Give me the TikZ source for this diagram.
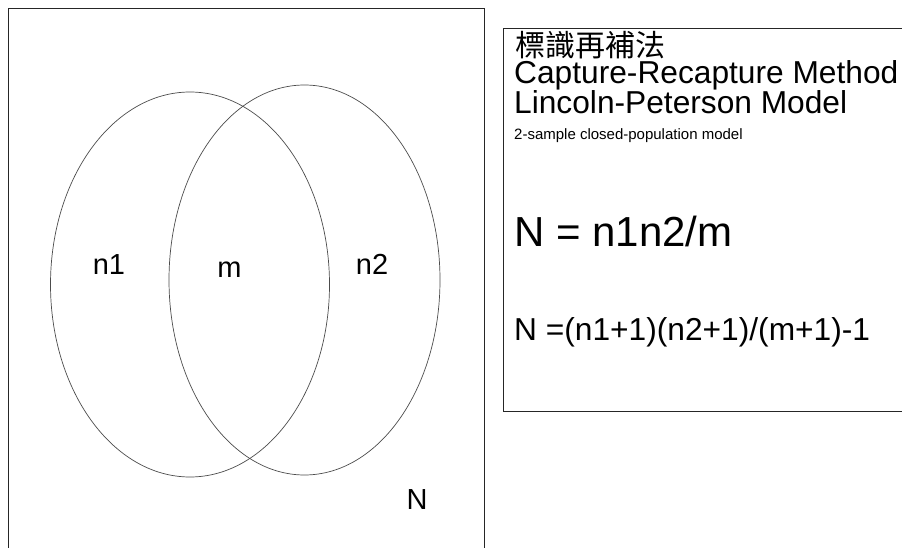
\documentclass[tikz,border=0pt]{standalone}
\usepackage{fontspec}
\setmainfont{Liberation Sans}
\newfontfamily\cjkfont{Noto Sans CJK TC}
\begin{document}
\begin{tikzpicture}[x=1pt,y=-1pt,
  frame/.style={draw=black!85,line width=0.9pt},
  venn/.style={draw=black!70,line width=0.7pt},
  lbl/.style={anchor=base,inner sep=0pt,font=\fontsize{29}{29}\selectfont},
  info/.style={anchor=base west,inner sep=0pt}]
\useasboundingbox (0,0) rectangle (902,548);
\fill[white] (0,0) rectangle (902,548);
% population frame (open at bottom)
\coordinate (lbl) at (8,548);
\coordinate (ltl) at (8,8);
\coordinate (ltr) at (484,8);
\coordinate (lbr) at (484,548);
\draw[frame] (lbl) -- (ltl) -- (ltr) -- (lbr);
% info frame (open at right)
\coordinate (rtr) at (902,28);
\coordinate (rtl) at (503,28);
\coordinate (rbl) at (503,411);
\coordinate (rbr) at (902,411);
\draw[frame] (rtr) -- (rtl) -- (rbl) -- (rbr);
% Venn ellipses
\draw[venn] (190,284.5) ellipse [x radius=139.5, y radius=192.5];
\draw[venn] (304.5,280) ellipse [x radius=135.5, y radius=195];
% labels
\node[lbl] (n1) at (109,274) {n1};
\node[lbl] (m) at (229.5,277) {m};
\node[lbl] (n2) at (372,274) {n2};
\node[lbl] (N) at (417,509) {N};
% info text
\node[info,font=\cjkfont\fontsize{30}{30}\selectfont] (t1) at (515,57) {標識再補法};
\node[info,font=\fontsize{31.7}{31.7}\selectfont] (t2) at (514,84) {Capture-Recapture Method};
\node[info,font=\fontsize{31.7}{31.7}\selectfont] (t3) at (514,114) {Lincoln-Peterson Model};
\node[info,font=\fontsize{15}{15}\selectfont] (t4) at (514,139.5) {2-sample closed-population model};
\node[info,font=\fontsize{42}{42}\selectfont] (t5) at (514,247) {N = n1n2/m};
\node[info,font=\fontsize{31.7}{31.7}\selectfont] (t6) at (514,340) {N =(n1+1)(n2+1)/(m+1)-1};
\end{tikzpicture}
\end{document}
